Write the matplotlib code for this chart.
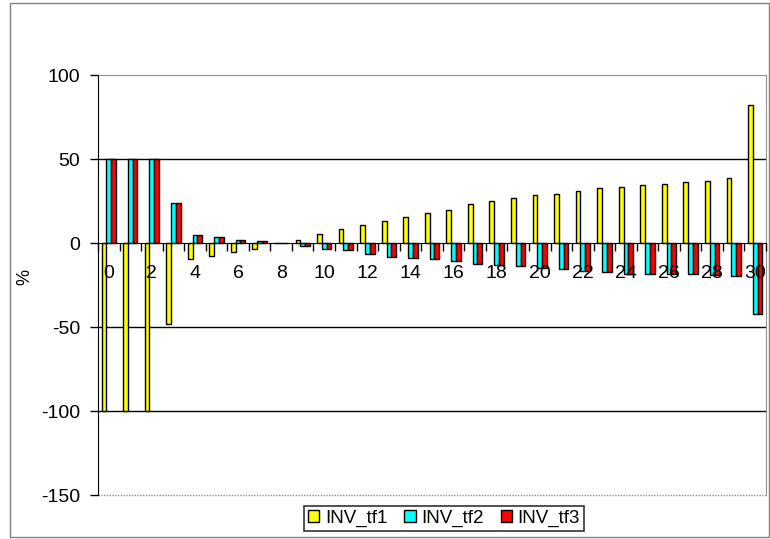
import matplotlib
matplotlib.use("Agg")
import matplotlib.pyplot as plt
import numpy as np
from matplotlib.patches import Rectangle

plt.rcParams['font.family'] = ['Liberation Sans', 'DejaVu Sans']

categories = list(range(31))
inv_tf1 = [-100, -100, -100, -48, -9.5, -7.7, -5.4, -3.6, 0, 2, 5.4, 8.1, 10.7, 13.3, 15.3, 17.9,
           19.4, 23.2, 24.8, 26.6, 28.4, 29.4, 31.0, 32.7, 33.5, 34.5, 35.3, 36.1, 37.1, 38.7, 82]
inv_tf2 = [50, 50, 50, 24, 5, 3.6, 1.8, 1, 0, -1.8, -3.6, -4.4, -6.3, -8.1, -8.9, -9.7,
           -10.7, -12.3, -13.1, -13.9, -14.7, -15.7, -16.7, -17.5, -18.7, -18.7, -18.7, -18.7, -19.0, -19.6, -42.4]
inv_tf3 = [50, 50, 50, 24, 5, 3.6, 2, 1.2, 0, -1.5, -3.6, -4.4, -6.3, -8.1, -8.9, -9.7,
           -10.7, -12.3, -13.1, -13.9, -14.7, -15.7, -16.7, -17.5, -18.7, -18.7, -18.7, -18.7, -19.0, -19.6, -42.4]
series_names = ['INV_tf1', 'INV_tf2', 'INV_tf3']
series_colors = ['#FFFF00', '#00FFFF', '#FF0000']
y_ticks = [-150, -100, -50, 0, 50, 100]
x_label_cats = list(range(0, 31, 2))

W, H = 770, 539
fig = plt.figure(figsize=(W / 100, H / 100), dpi=100)
fig.patch.set_facecolor('white')
# outer chart border
fig.add_artist(Rectangle((10 / W, 1 - 537 / H), (769 - 10) / W, (537 - 3) / H,
                         transform=fig.transFigure, fill=False, edgecolor='#808080', lw=1))

ax = fig.add_axes([98 / W, 1 - 495 / H, (766 - 98) / W, (495 - 75) / H])
x = np.arange(len(categories))
w = 0.222
for i, (vals, name, col) in enumerate(zip([inv_tf1, inv_tf2, inv_tf3], series_names, series_colors)):
    ax.bar(x + (i - 1) * w, vals, width=w, color=col, edgecolor='black', linewidth=1.0,
           label=name, zorder=2)

ax.set_xlim(-0.5, 30.5)
ax.set_ylim(-150, 100)

# gridlines
for gy in [50, -50, -100]:
    ax.axhline(gy, color='black', lw=1.0, zorder=0.5)

ax.spines['top'].set_color('#909090')
ax.spines['top'].set_linestyle((0, (1, 1)))
ax.spines['right'].set_color('#909090')
ax.spines['right'].set_linestyle((0, (1, 1)))
ax.spines['left'].set_color('black')
ax.spines['bottom'].set_position(('data', 0))
ax.spines['bottom'].set_color('black')
ax.spines['bottom'].set_zorder(3)
ax.plot([0, 1], [0, 0], transform=ax.transAxes, color='#909090', lw=1,
        linestyle=(0, (1, 1)), clip_on=False, zorder=0.5)

ax.set_yticks(y_ticks)
ax.set_yticklabels([str(v) for v in y_ticks])
ax.tick_params(axis='y', direction='out', length=6, width=1, pad=7, labelsize=14, colors='black')

ax.set_xticks(np.arange(-0.5, 31, 1))
ax.set_xticklabels([])
ax.tick_params(axis='x', which='major', direction='out', length=6, width=1)
ax.set_xticks(x_label_cats, minor=True)
ax.set_xticklabels([str(c) for c in x_label_cats], minor=True)
ax.tick_params(axis='x', which='minor', length=0, pad=16, labelsize=14)
ax.set_axisbelow(False)

fig.text(25 / W, 1 - 277 / H, '%', rotation=90, ha='center', va='center', fontsize=13)

leg = ax.legend(loc='center', bbox_to_anchor=(444 / W, 1 - 518.5 / H),
                bbox_transform=fig.transFigure, ncol=3, fontsize=13.5, frameon=True,
                fancybox=False, handlelength=0.6, handleheight=0.6, handletextpad=0.3,
                columnspacing=0.9, borderpad=0.2, borderaxespad=0)
leg.get_frame().set_edgecolor('black')
leg.get_frame().set_linewidth(1.2)

fig.savefig('out.png', dpi=100)
